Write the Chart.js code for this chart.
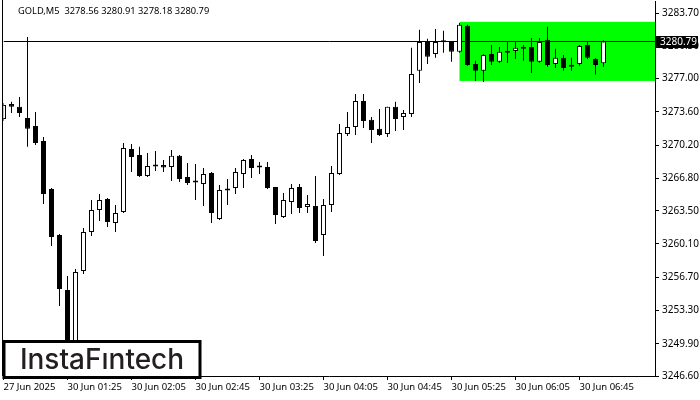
<!DOCTYPE html>
<html>
<head>
<meta charset="utf-8">
<script src="https://cdn.jsdelivr.net/npm/chart.js@4.4.1/dist/chart.umd.min.js"></script>
<style>
  html, body { margin: 0; padding: 0; background: #fff; }
  canvas { display: block; }
</style>
</head>
<body>
<canvas id="myChart" width="700" height="400"></canvas>
<script>
// GOLD M5 bars, oldest first
const symbol = 'GOLD,M5';
const opens = [
  3272.88, 3274.41, 3274.11, 3272.98, 3272.16, 3270.63, 3265.72, 3261.02, 3255.39, 3249.26,
  3257.34, 3261.32, 3263.57, 3264.70, 3262.24, 3263.37, 3269.81, 3269.20, 3267.05, 3268.02,
  3268.17, 3267.97, 3269.10, 3266.95, 3266.44, 3266.23, 3267.36, 3262.65, 3265.72, 3265.82,
  3267.25, 3268.79, 3268.07, 3267.97, 3265.93, 3262.86, 3264.39, 3265.93, 3263.88, 3263.98,
  3261.02, 3264.08, 3267.25, 3271.34, 3272.06, 3274.72, 3272.78, 3271.86, 3271.34, 3274.11,
  3273.08, 3273.39, 3277.79, 3280.75, 3279.52, 3280.75, 3280.75, 3279.73, 3282.39, 3278.50,
  3277.79, 3279.52, 3278.71, 3279.63, 3279.83, 3280.04, 3280.24, 3278.71, 3280.96, 3278.50,
  3279.12, 3278.20, 3278.50, 3280.44, 3279.01, 3278.56,
];
const highs = [
  3274.51, 3274.62, 3275.13, 3281.26, 3273.59, 3271.04, 3265.82, 3261.12, 3256.83, 3257.54,
  3261.73, 3264.60, 3265.21, 3264.80, 3264.08, 3270.42, 3270.32, 3270.02, 3269.40, 3269.61,
  3268.69, 3269.71, 3269.20, 3268.38, 3268.28, 3267.87, 3267.46, 3266.13, 3266.74, 3267.87,
  3268.79, 3269.20, 3268.48, 3268.48, 3265.93, 3265.31, 3266.23, 3266.23, 3265.11, 3267.05,
  3264.70, 3268.07, 3272.37, 3273.59, 3275.43, 3275.43, 3273.08, 3273.90, 3274.11, 3274.62,
  3273.80, 3280.14, 3281.98, 3281.06, 3282.08, 3281.88, 3280.85, 3282.69, 3282.49, 3278.81,
  3279.52, 3280.44, 3280.24, 3280.75, 3280.75, 3280.44, 3281.16, 3281.16, 3282.29, 3280.04,
  3279.42, 3279.12, 3280.44, 3280.75, 3279.11, 3280.91,
];
const lows = [
  3272.67, 3273.49, 3273.08, 3270.02, 3270.22, 3264.19, 3259.89, 3253.76, 3248.03, 3248.54,
  3257.03, 3260.92, 3262.45, 3261.84, 3261.32, 3263.27, 3267.46, 3266.95, 3266.95, 3267.56,
  3267.46, 3266.54, 3266.44, 3266.13, 3264.60, 3263.98, 3262.24, 3262.55, 3264.08, 3265.21,
  3265.82, 3266.85, 3267.25, 3265.72, 3262.14, 3262.76, 3263.16, 3263.27, 3263.27, 3260.20,
  3258.87, 3263.37, 3267.15, 3271.14, 3271.24, 3271.96, 3270.42, 3271.14, 3271.04, 3271.65,
  3271.75, 3273.08, 3276.56, 3278.50, 3279.12, 3279.63, 3278.71, 3279.63, 3278.30, 3276.76,
  3276.66, 3278.40, 3278.60, 3278.60, 3279.01, 3278.81, 3277.58, 3278.61, 3278.20, 3278.09,
  3277.79, 3277.79, 3278.30, 3279.01, 3277.38, 3278.18,
];
const closes = [
  3274.31, 3274.11, 3273.49, 3271.86, 3270.42, 3265.21, 3260.81, 3255.50, 3249.05, 3257.23,
  3261.32, 3263.57, 3264.60, 3262.35, 3263.27, 3269.91, 3268.99, 3267.05, 3268.07, 3268.07,
  3267.92, 3269.10, 3266.74, 3266.33, 3266.39, 3267.25, 3263.27, 3265.62, 3265.57, 3267.46,
  3268.69, 3267.87, 3267.92, 3265.82, 3263.06, 3264.60, 3265.82, 3263.78, 3264.19, 3260.40,
  3264.08, 3267.36, 3271.45, 3272.06, 3274.72, 3272.67, 3271.75, 3271.24, 3274.11, 3272.88,
  3273.49, 3277.48, 3280.75, 3279.22, 3280.75, 3280.72, 3279.73, 3282.49, 3278.40, 3277.79,
  3279.42, 3278.71, 3279.73, 3279.83, 3280.14, 3280.24, 3278.71, 3280.75, 3278.40, 3279.12,
  3278.09, 3278.40, 3280.34, 3279.12, 3278.40, 3280.79,
];

// one time label every 8 bars
const timeLabels = [
  '27 Jun 2025', '30 Jun 01:25', '30 Jun 02:05', '30 Jun 02:45', '30 Jun 03:25',
  '30 Jun 04:05', '30 Jun 04:45', '30 Jun 05:25', '30 Jun 06:05', '30 Jun 06:45',
];
const labelStep = 8;
const priceTicks = [
  3246.60, 3249.90, 3253.30, 3256.70, 3260.10, 3263.50,
  3266.80, 3270.20, 3273.60, 3277.00, 3280.30, 3283.70,
];

// green range rectangle
const zoneStart = 57;
const zoneTop = 3282.80;
const zoneBottom = 3276.76;

const last = closes.length - 1;
const lastPrice = closes[last];
const xMax = 81.44;

Chart.defaults.font.family = "'Noto Sans', sans-serif";
Chart.defaults.font.size = 9.5;
Chart.defaults.color = '#000';

const wicks = highs.map((h, i) => ({ x: i, y: [lows[i], h] }));
const bodies = opens.map((o, i) => ({ x: i, y: [o, closes[i]] }));
const bodyColors = opens.map((o, i) => (closes[i] >= o ? '#ffffff' : '#000000'));

const extras = {
  id: 'extras',
  beforeDatasetsDraw(chart) {
    const { ctx, chartArea, scales } = chart;
    const x0 = scales.x.getPixelForValue(zoneStart);
    const y0 = scales.y.getPixelForValue(zoneTop);
    const y1 = scales.y.getPixelForValue(zoneBottom);
    ctx.save();
    ctx.fillStyle = '#00ff00';
    ctx.fillRect(x0, y0, chartArea.right - x0, y1 - y0);
    ctx.restore();
  },
  afterDraw(chart) {
    const { ctx, chartArea, scales } = chart;
    ctx.save();
    // left frame
    ctx.strokeStyle = '#000';
    ctx.lineWidth = 1;
    ctx.beginPath();
    ctx.moveTo(Math.floor(chartArea.left) - 0.5, 0);
    ctx.lineTo(Math.floor(chartArea.left) - 0.5, chartArea.bottom);
    ctx.stroke();

    // header
    ctx.fillStyle = '#000';
    ctx.font = "9.3px 'Noto Sans'";
    ctx.textBaseline = 'middle';
    const ohlc = [opens[last], highs[last], lows[last], closes[last]].map(v => v.toFixed(2)).join(' ');
    ctx.fillText(symbol + '  ' + ohlc, 18, 11);

    // price tag
    const py = Math.round(scales.y.getPixelForValue(lastPrice));
    ctx.fillRect(chartArea.right, py - 6, 43, 12);
    ctx.fillStyle = '#fff';
    ctx.font = "10px 'Noto Sans'";
    ctx.fillText(lastPrice.toFixed(2), chartArea.right + 5, py);

    // logo
    ctx.fillStyle = '#fff';
    ctx.fillRect(4, 341.5, 196, 36);
    ctx.lineWidth = 3;
    ctx.strokeStyle = '#000';
    ctx.strokeRect(4, 341.5, 196, 36);
    ctx.fillStyle = '#231f20';
    ctx.font = "500 28px Inter";
    ctx.textAlign = 'center';
    ctx.textBaseline = 'alphabetic';
    ctx.fillText('InstaF\u0131ntech', 102, 369);
    ctx.restore();
  },
};

const ctx = document.getElementById('myChart').getContext('2d');
const myChart = new Chart(ctx, {
  type: 'bar',
  data: {
    datasets: [
      {
        label: 'bodies',
        data: bodies,
        order: 0,
        grouped: false,
        barThickness: 5,
        minBarLength: 2,
        backgroundColor: bodyColors,
        borderColor: '#000',
        borderWidth: 1,
        borderSkipped: false,
        inflateAmount: 0,
      },
      {
        label: 'wicks',
        data: wicks,
        order: 1,
        grouped: false,
        barThickness: 1,
        backgroundColor: '#000',
        borderWidth: 0,
        inflateAmount: 0,
      },
      {
        type: 'line',
        label: 'bid',
        data: [{ x: 0, y: lastPrice }, { x: xMax, y: lastPrice }],
        order: 2,
        borderColor: '#000',
        borderWidth: 1,
        pointRadius: 0,
      },
    ],
  },
  options: {
    responsive: false,
    animation: false,
    layout: { padding: { left: 3.5, top: 1, right: 0, bottom: 0 } },
    plugins: { legend: { display: false }, tooltip: { enabled: false } },
    scales: {
      x: {
        type: 'linear',
        min: 0,
        max: xMax,
        offset: false,
        grid: { drawOnChartArea: false, tickLength: 4, color: '#000', offset: false },
        border: { display: true, color: '#000' },
        ticks: {
          align: 'start',
          maxRotation: 0,
          autoSkip: false,
          padding: 2,
          callback: v => timeLabels[Math.round(v / labelStep)],
        },
        afterBuildTicks: s => { s.ticks = timeLabels.map((_, i) => ({ value: i * labelStep })); },
        afterFit: s => { s.height = 24; s.paddingLeft = 0; s.paddingRight = 0; },
      },
      y: {
        type: 'linear',
        position: 'right',
        min: 3246.60,
        max: 3284.93,
        grid: { drawOnChartArea: false, tickLength: 4, color: '#000' },
        border: { display: true, color: '#000' },
        ticks: { padding: 3, font: { size: 10 }, callback: v => v.toFixed(2) },
        afterBuildTicks: s => { s.ticks = priceTicks.map(v => ({ value: v })); },
        afterFit: s => { s.width = 45; s.paddingTop = 0; s.paddingBottom = 0; },
      },
    },
  },
  plugins: [extras],
});
</script>
</body>
</html>
